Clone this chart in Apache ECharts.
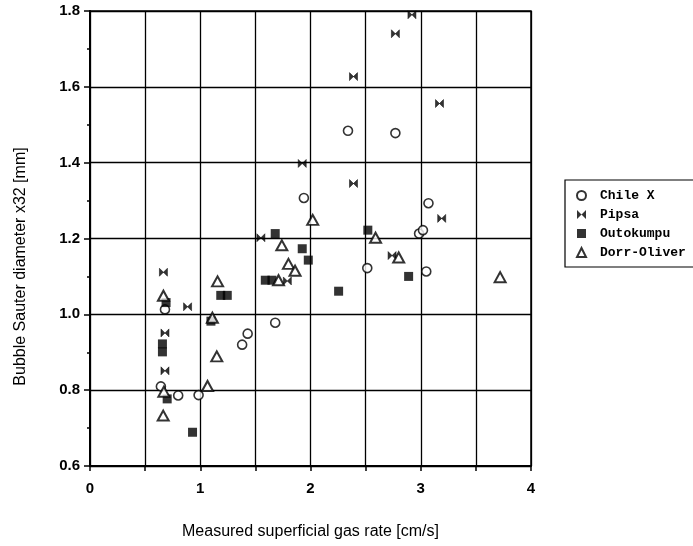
<!DOCTYPE html>
<html>
<head>
<meta charset="utf-8">
<script src="https://cdn.jsdelivr.net/npm/echarts@6/dist/echarts.min.js"></script>
<style>
html,body{margin:0;padding:0;background:#fff;}
#chart{width:693px;height:546px;}
</style>
</head>
<body>
<div id="chart"></div>
<script>
const seriesNames = ['Chile X', 'Pipsa', 'Outokumpu', 'Dorr-Oliver'];
const xTickLabels = ['0', '1', '2', '3', '4'];
const yTickLabels = ['0.6', '0.8', '1.0', '1.2', '1.4', '1.6', '1.8'];

const chileX = [
  [0.68, 1.013], [0.643, 0.81], [0.80, 0.786], [0.985, 0.787],
  [1.38, 0.92], [1.43, 0.949], [1.68, 0.978],
  [1.94, 1.307], [2.34, 1.484], [2.77, 1.478],
  [2.515, 1.122], [2.985, 1.213], [3.02, 1.222], [3.07, 1.293], [3.05, 1.113]
];
const pipsa = [
  [0.666, 1.111], [0.885, 1.02], [0.68, 0.951], [0.68, 0.851],
  [1.55, 1.202], [1.79, 1.088], [1.925, 1.398],
  [2.39, 1.627], [2.39, 1.345], [2.77, 1.74], [2.92, 1.79],
  [3.17, 1.556], [3.19, 1.253], [2.74, 1.155]
];
const outokumpu = [
  [0.69, 1.031], [0.657, 0.922], [0.657, 0.901], [0.70, 0.777], [0.93, 0.689],
  [1.097, 0.982], [1.186, 1.05], [1.245, 1.05],
  [1.59, 1.09], [1.65, 1.09], [1.68, 1.213], [1.925, 1.173], [1.98, 1.143],
  [2.255, 1.061], [2.52, 1.222], [2.89, 1.10]
];
const dorrOliver = [
  [0.666, 1.049], [0.67, 0.796], [0.664, 0.733],
  [1.066, 0.811], [1.11, 0.991], [1.15, 0.889], [1.157, 1.087],
  [1.71, 1.09], [1.74, 1.182], [1.80, 1.133], [1.86, 1.115], [2.02, 1.249],
  [2.59, 1.202], [2.80, 1.15], [3.72, 1.098]
];

const bowtie = 'path://M0,0 L0,10 L10,0 L10,10 Z';
const sansFont = '"Liberation Sans", Arial, sans-serif';

const chart = echarts.init(document.getElementById('chart'), null, {renderer: 'canvas'});
chart.setOption({
  backgroundColor: '#fff',
  animation: false,
  grid: {
    left: 90, top: 11, width: 441, height: 455,
    show: true, borderColor: '#000', borderWidth: 1.5
  },
  legend: {
    orient: 'vertical',
    left: 565, top: 180,
    data: [
      {name: seriesNames[0]},
      {name: seriesNames[1], itemStyle: {borderWidth: 0}},
      {name: seriesNames[2]},
      {name: seriesNames[3]}
    ],
    itemWidth: 9, itemHeight: 9, itemGap: 6,
    borderColor: '#000', borderWidth: 1.2, borderRadius: 0,
    padding: [9, 12, 8, 11],
    textStyle: {
      fontFamily: '"Liberation Mono", "Courier New", monospace',
      fontWeight: 'bold', fontSize: 13, color: '#000',
      padding: [0, 0, 0, 9]
    }
  },
  xAxis: {
    type: 'value', min: 0, max: 4, interval: 0.5,
    name: 'Measured superficial gas rate [cm/s]',
    nameLocation: 'middle', nameGap: 58,
    nameTextStyle: {fontFamily: sansFont, fontSize: 16, color: '#000'},
    axisLine: {show: true, onZero: false, lineStyle: {color: '#000', width: 2}},
    axisTick: {show: true, length: 5, lineStyle: {color: '#000', width: 1.5}},
    axisLabel: {
      margin: 15, color: '#000', fontFamily: sansFont, fontWeight: 'bold', fontSize: 15,
      formatter: function (v) {
        const i = xTickLabels.indexOf(String(v));
        return i >= 0 ? xTickLabels[i] : '';
      }
    },
    splitLine: {show: true, lineStyle: {color: '#000', width: 1.3}}
  },
  yAxis: {
    type: 'value', min: 0.6, max: 1.8, interval: 0.2,
    name: 'Bubble Sauter diameter x32 [mm]',
    nameLocation: 'middle', nameGap: 61,
    nameTextStyle: {fontFamily: sansFont, fontSize: 16, color: '#000', padding: [0, 56, 0, 0]},
    axisLine: {show: true, onZero: false, lineStyle: {color: '#000', width: 2}},
    axisTick: {show: true, length: 6, lineStyle: {color: '#000', width: 1.5}},
    minorTick: {show: true, splitNumber: 2, length: 3, lineStyle: {color: '#000', width: 1.5}},
    axisLabel: {
      margin: 10, color: '#000', fontFamily: sansFont, fontWeight: 'bold', fontSize: 15,
      formatter: function (v) {
        const s = v.toFixed(1);
        return yTickLabels.indexOf(s) >= 0 ? s : '';
      }
    },
    splitLine: {show: true, lineStyle: {color: '#000', width: 1.3}}
  },
  series: [
    {
      name: seriesNames[0], type: 'scatter', data: chileX,
      symbol: 'circle', symbolSize: 9,
      itemStyle: {color: '#fff', borderColor: '#000', borderWidth: 1.6}
    },
    {
      name: seriesNames[1], type: 'scatter', data: pipsa,
      symbol: bowtie, symbolSize: 8,
      itemStyle: {color: '#000', borderColor: '#000', borderWidth: 0.6}
    },
    {
      name: seriesNames[2], type: 'scatter', data: outokumpu,
      symbol: 'rect', symbolSize: 9,
      itemStyle: {color: '#000'}
    },
    {
      name: seriesNames[3], type: 'scatter', data: dorrOliver,
      symbol: 'triangle', symbolSize: [11, 10],
      itemStyle: {color: '#fff', borderColor: '#000', borderWidth: 2}
    }
  ]
});
</script>
</body>
</html>
